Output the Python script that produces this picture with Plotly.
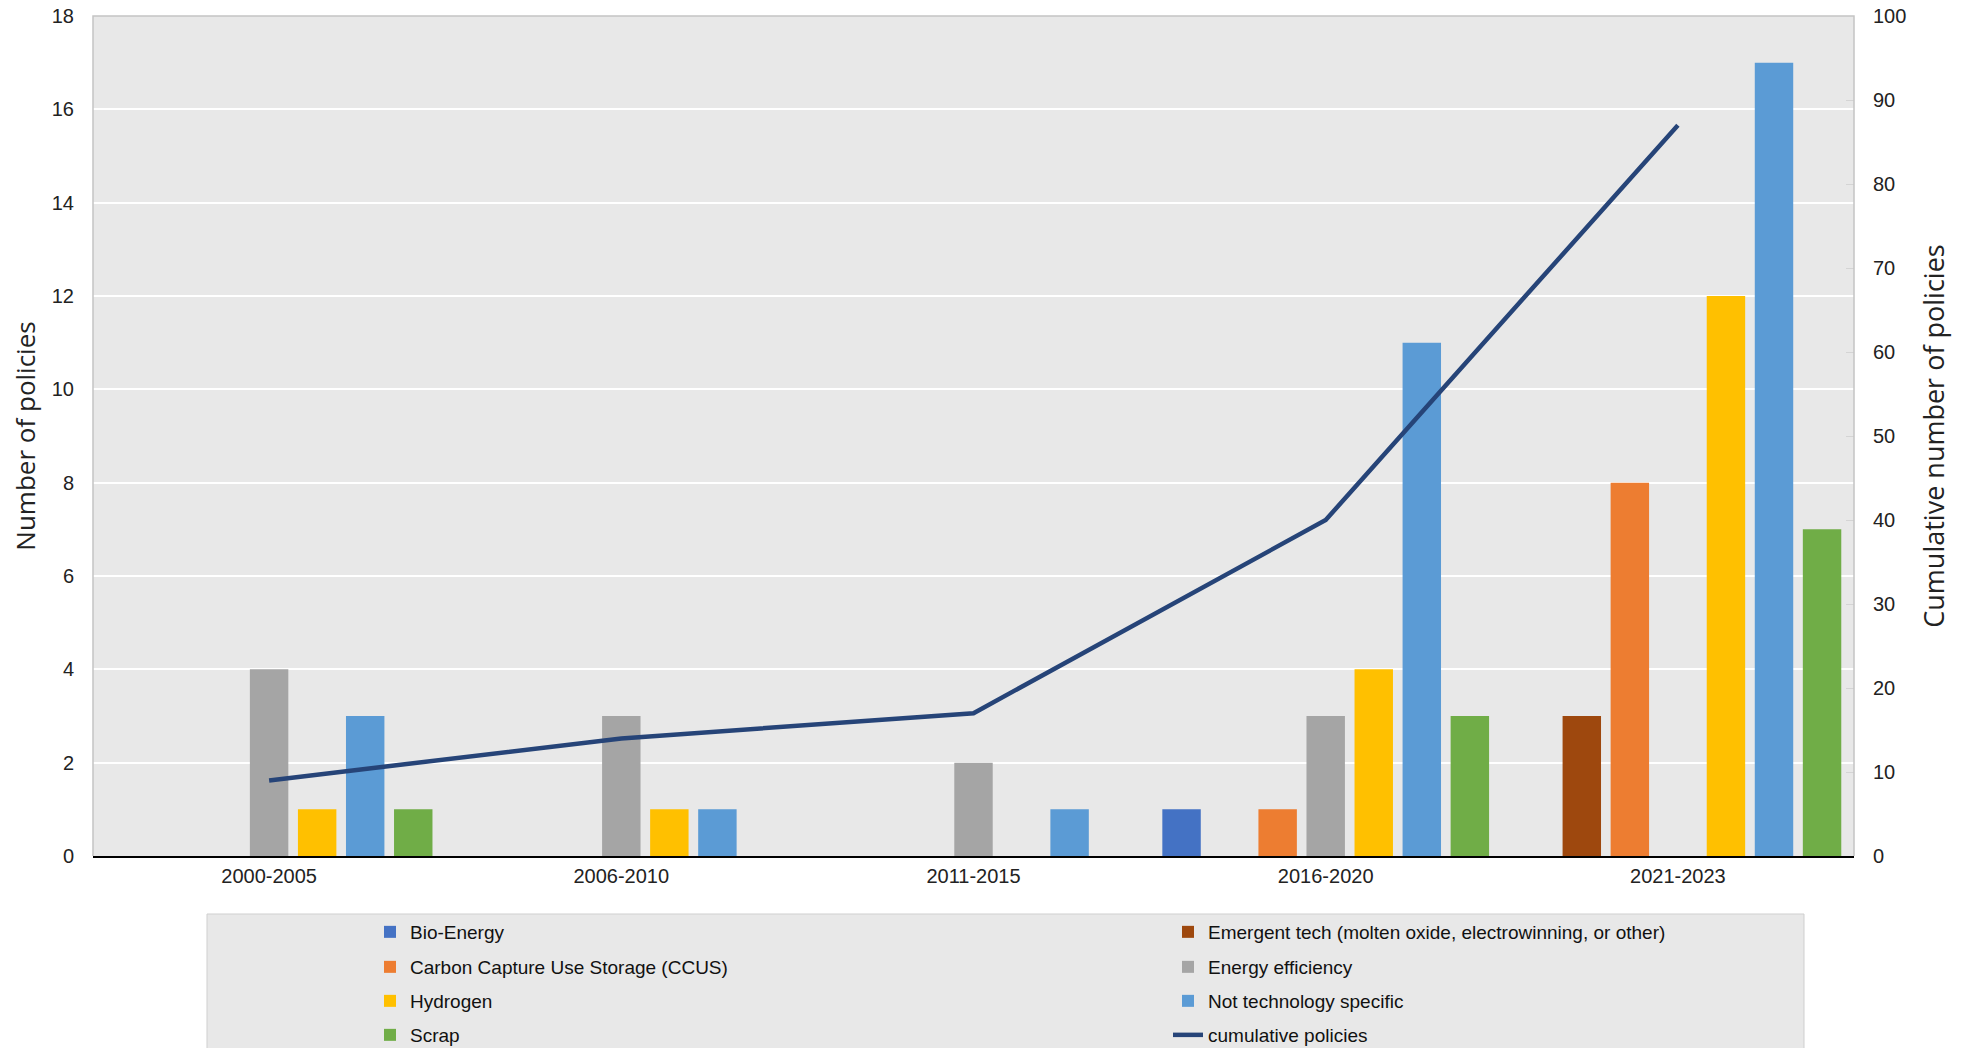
import plotly.graph_objects as go

periods = ["2000-2005", "2006-2010", "2011-2015", "2016-2020", "2021-2023"]
bio_energy = [0, 0, 0, 1, 0]
emergent_tech = [0, 0, 0, 0, 3]
ccus = [0, 0, 0, 1, 8]
energy_efficiency = [4, 3, 2, 3, 0]
hydrogen = [1, 1, 0, 4, 12]
not_tech_specific = [3, 1, 1, 11, 17]
scrap = [1, 0, 0, 3, 7]
cumulative = [9, 14, 17, 40, 87]

left_ticks = [0, 2, 4, 6, 8, 10, 12, 14, 16, 18]
right_ticks = [0, 10, 20, 30, 40, 50, 60, 70, 80, 90, 100]

series = [
    ("Bio-Energy", bio_energy, "#4472C4", "legend"),
    ("Emergent tech (molten oxide, electrowinning, or other)", emergent_tech, "#9E480E", "legend"),
    ("Carbon Capture Use Storage (CCUS)", ccus, "#ED7D31", "legend2"),
    ("Energy efficiency", energy_efficiency, "#A5A5A5", "legend2"),
    ("Hydrogen", hydrogen, "#FFC000", "legend3"),
    ("Not technology specific", not_tech_specific, "#5B9BD5", "legend3"),
    ("Scrap", scrap, "#70AD47", "legend4"),
]

TICKF = "Liberation Sans Narrow, Arial Narrow, Liberation Sans, Arial, sans-serif"
REG = "Liberation Sans, Arial, sans-serif"

fig = go.Figure()
for name, vals, color, leg in series:
    fig.add_trace(go.Bar(
        x=periods, y=vals, name=name, legend=leg,
        marker=dict(color=color, line=dict(width=0)),
    ))

fig.add_trace(go.Scatter(
    x=periods, y=cumulative, name="cumulative policies", legend="legend4",
    yaxis="y2", mode="lines", line=dict(color="#264478", width=4.5),
))

W, H = 1964, 1048
L, R, T, B = 93, 110, 16, 192
plot_h = H - T - B

def py(ypx):
    return (H - B - ypx) / plot_h

def px(xpx):
    return (xpx - L) / (W - L - R)

legend_common = dict(
    orientation="h", xanchor="left", yanchor="middle",
    x=px(370), bgcolor="rgba(0,0,0,0)", borderwidth=0,
    font=dict(family=REG, size=19, color="#111111"),
    entrywidth=753, entrywidthmode="pixels", itemclick=False,
)

fig.update_layout(
    width=W, height=H,
    margin=dict(l=L, r=R, t=T, b=B, autoexpand=False),
    paper_bgcolor="white",
    plot_bgcolor="#E8E8E8",
    barmode="group",
    bargap=0.045,
    bargroupgap=0.2,
    showlegend=True,
    legend=dict(**legend_common, y=py(932)),
    legend2=dict(**legend_common, y=py(967)),
    legend3=dict(**legend_common, y=py(1001)),
    legend4=dict(**legend_common, y=py(1035)),
    xaxis=dict(
        type="category",
        showline=True, linecolor="#000000", linewidth=2,
        showgrid=False, ticks="", ticklabelstandoff=1,
        tickfont=dict(family=TICKF, size=20, color="#222222"),
    ),
    yaxis=dict(
        range=[0, 18], tickvals=left_ticks,
        showgrid=True, gridcolor="#FFFFFF", gridwidth=2,
        zeroline=False, showline=False, ticks="",
        ticklabelstandoff=18,
        tickfont=dict(family=TICKF, size=20, color="#222222"),
        title=dict(text="Number of policies", standoff=8,
                   font=dict(family="Open Sans, sans-serif", size=26, color="#222222")),
    ),
    yaxis2=dict(
        range=[0, 100], tickvals=right_ticks, overlaying="y", side="right",
        showgrid=False, zeroline=False, showline=False,
        ticks="inside", ticklen=8, tickcolor="#D4D4D4", tickwidth=1,
        ticklabelstandoff=18,
        tickfont=dict(family=TICKF, size=20, color="#222222"),
        title=dict(text="Cumulative number of policies", standoff=19,
                   font=dict(family="Open Sans, sans-serif", size=27, color="#222222")),
    ),
    shapes=[
        dict(type="rect", xref="paper", yref="paper",
             x0=px(207), x1=px(1804), y0=py(914), y1=py(1060),
             fillcolor="#E8E8E8", line=dict(color="#CFCFCF", width=1), layer="below"),
        dict(type="path", xref="paper", yref="paper",
             path="M 0 0 L 0 1 L 1 1 L 1 0",
             line=dict(color="#C4C4C4", width=1.5), layer="above"),
    ],
)

fig.write_html("out.html")
